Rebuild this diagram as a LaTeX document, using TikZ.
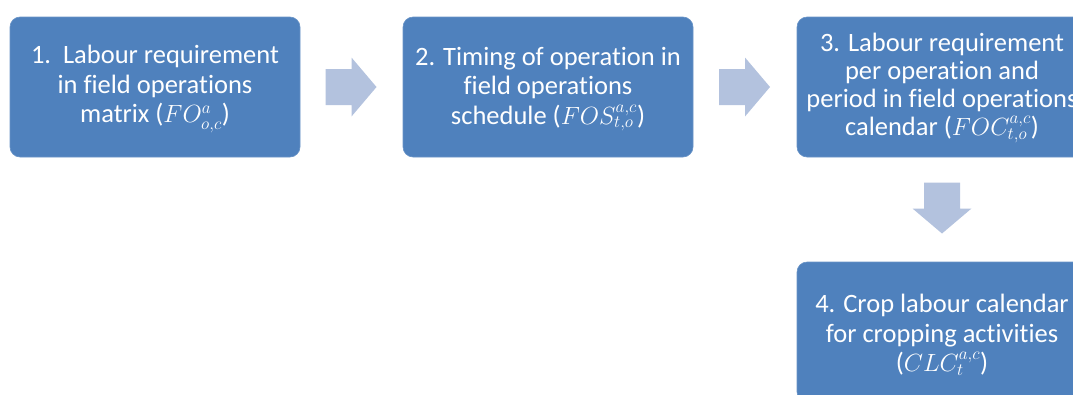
\documentclass[tikz,border=0pt]{standalone}
\usepackage{fontspec}
\setmainfont[Ligatures=NoCommon]{Carlito}
\usetikzlibrary{calc}
\definecolor{boxblue}{HTML}{4F81BD}
\definecolor{arrowblue}{HTML}{B3C2DE}
\tikzset{
  stage/.style={draw=boxblue!85!white, line width=0.6pt, fill=boxblue, rounded corners=10pt,
    minimum width=290pt, minimum height=140pt, inner sep=0pt},
  stagetext/.style={text=white, align=center, inner sep=0pt,
    font=\fontsize{26.5}{29.5}\selectfont},
  flowarrow/.style={fill=arrowblue, draw=none}
}
\begin{document}
\begin{tikzpicture}[x=1pt,y=-1pt]
  \useasboundingbox (0,0) rectangle (1073,394);
  \clip (0,0) rectangle (1073,394);
  % the four stages
  \node[stage] (s1) at (155,87) {};
  \node[stagetext] (t1) at ($(s1.center)+(0,2)$) {1.\ \ Labour requirement\\in field operations\\matrix ($FO^{a}_{o,c}$)};
  \node[stage] (s2) at (548,87) {};
  \node[stagetext] (t2) at ($(s2.center)+(0,2)$) {2. Timing of operation in\\field operations\\schedule ($FOS^{a,c}_{t,o}$)};
  \node[stage] (s3) at (942,87) {};
  \node[stagetext, font=\fontsize{26.5}{28}\selectfont] (t3) at ($(s3.center)+(0,1)$) {3. Labour requirement\\per operation and\\period in field operations\\calendar ($FOC^{a,c}_{t,o}$)};
  \node[stage] (s4) at (942,332) {};
  \node[stagetext] (t4) at ($(s4.center)+(0,3)$) {4. Crop labour calendar\\for cropping activities\\($CLC^{a,c}_{t}$)};
  % block arrows between the stages
  \coordinate (a1) at ($(s1.east)!0.5!(s2.west)$);
  \coordinate (a2) at ($(s2.east)!0.5!(s3.west)$);
  \coordinate (a3) at ($(s3.south)!0.5!(s4.north)$);
  \foreach \c in {a1,a2}{
    \fill[flowarrow] ($(\c)+(-26,-18)$) -- ($(\c)+(0,-18)$) -- ($(\c)+(0,-29.5)$)
      -- ($(\c)+(25,0)$) -- ($(\c)+(0,29.5)$) -- ($(\c)+(0,18)$) -- ($(\c)+(-26,18)$) -- cycle;
  }
  \fill[flowarrow] ($(a3)+(-18,-27)$) -- ($(a3)+(18,-27)$) -- ($(a3)+(18,-1)$)
    -- ($(a3)+(29.5,-1)$) -- ($(a3)+(0,24)$) -- ($(a3)+(-29.5,-1)$) -- ($(a3)+(-18,-1)$) -- cycle;
\end{tikzpicture}
\end{document}
